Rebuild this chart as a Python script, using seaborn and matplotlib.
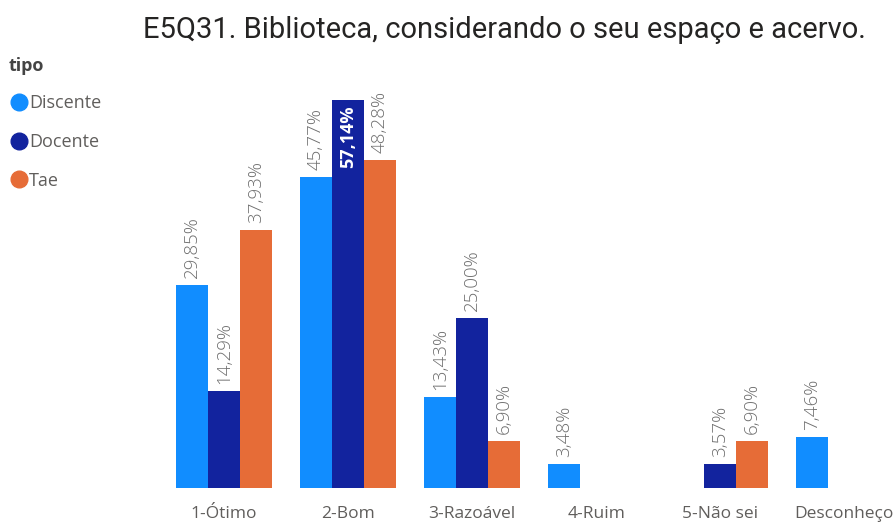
import matplotlib
matplotlib.use("Agg")
import matplotlib.pyplot as plt
from matplotlib.lines import Line2D
import seaborn as sns
import pandas as pd

categories = ["1-Ótimo", "2-Bom", "3-Razoável", "4-Ruim", "5-Não sei", "Desconheço"]
tipos = ["Discente", "Docente", "Tae"]
discente = [29.85, 45.77, 13.43, 3.48, None, 7.46]
docente = [14.29, 57.14, 25.00, None, 3.57, None]
tae = [37.93, 48.28, 6.90, None, 6.90, None]
colors = ["#118DFF", "#12239E", "#E66C37"]
title = "E5Q31. Biblioteca, considerando o seu espaço e acervo."

rows = []
for tipo, vals in zip(tipos, [discente, docente, tae]):
    for cat, v in zip(categories, vals):
        if v is not None:
            rows.append({"categoria": cat, "tipo": tipo, "pct": v})
df = pd.DataFrame(rows)

sns.set_theme(style="white")
plt.rcParams["font.family"] = ["Open Sans", "DejaVu Sans"]

fig = plt.figure(figsize=(8.95, 5.23), dpi=100)
ax = fig.add_axes([162 / 895, 35 / 523, 733 / 895, 396 / 523])

sns.barplot(data=df, x="categoria", y="pct", hue="tipo", order=categories,
            hue_order=tipos, palette=colors, width=0.775, ax=ax,
            legend=False, saturation=1, errorbar=None, linewidth=0)

ax.set_xlim(-0.5, 5.41)
ax.set_ylim(0, 58.3)
ax.set_xlabel("")
ax.set_ylabel("")
ax.set_yticks([])
for s in ax.spines.values():
    s.set_visible(False)
ax.tick_params(axis="x", length=0, pad=13, labelsize=12.5, colors="#605E5C")

vmax = df["pct"].max()
for cont in ax.containers:
    for bar in cont:
        h = bar.get_height()
        if h != h:
            continue
        txt = f"{h:.2f}".replace(".", ",") + "%"
        x = bar.get_x() + bar.get_width() / 2
        if h == vmax:
            ax.annotate(txt, (x, h), xytext=(0, -4), textcoords="offset points",
                        rotation=90, ha="center", va="top", color="white",
                        fontsize=13, fontweight="bold")
        else:
            ax.annotate(txt, (x, h), xytext=(0, 5), textcoords="offset points",
                        rotation=90, ha="center", va="bottom", color="#6E6E6E",
                        fontsize=13.5, fontweight="light")

fig.text(504 / 895, 1 - 30 / 523, title, ha="center", va="center",
         fontsize=21, color="#252423", family=["Roboto", "DejaVu Sans"])

handles = [Line2D([0], [0], marker="o", linestyle="", markersize=12,
                  markerfacecolor=c, markeredgecolor=c) for c in colors]
leg = fig.legend(handles, tipos, title="tipo", loc="upper left",
                 bbox_to_anchor=(-0.004, 1 - 44 / 523), frameon=False,
                 handletextpad=0.0, labelspacing=1.15, fontsize=13,
                 title_fontsize=13, alignment="left", borderaxespad=0.3,
                 handlelength=1.1, labelcolor="#605E5C")
leg.get_title().set_fontweight("bold")
leg.get_title().set_color("#444444")
leg._legend_box.sep = 14

fig.savefig("out.png", dpi=100)
